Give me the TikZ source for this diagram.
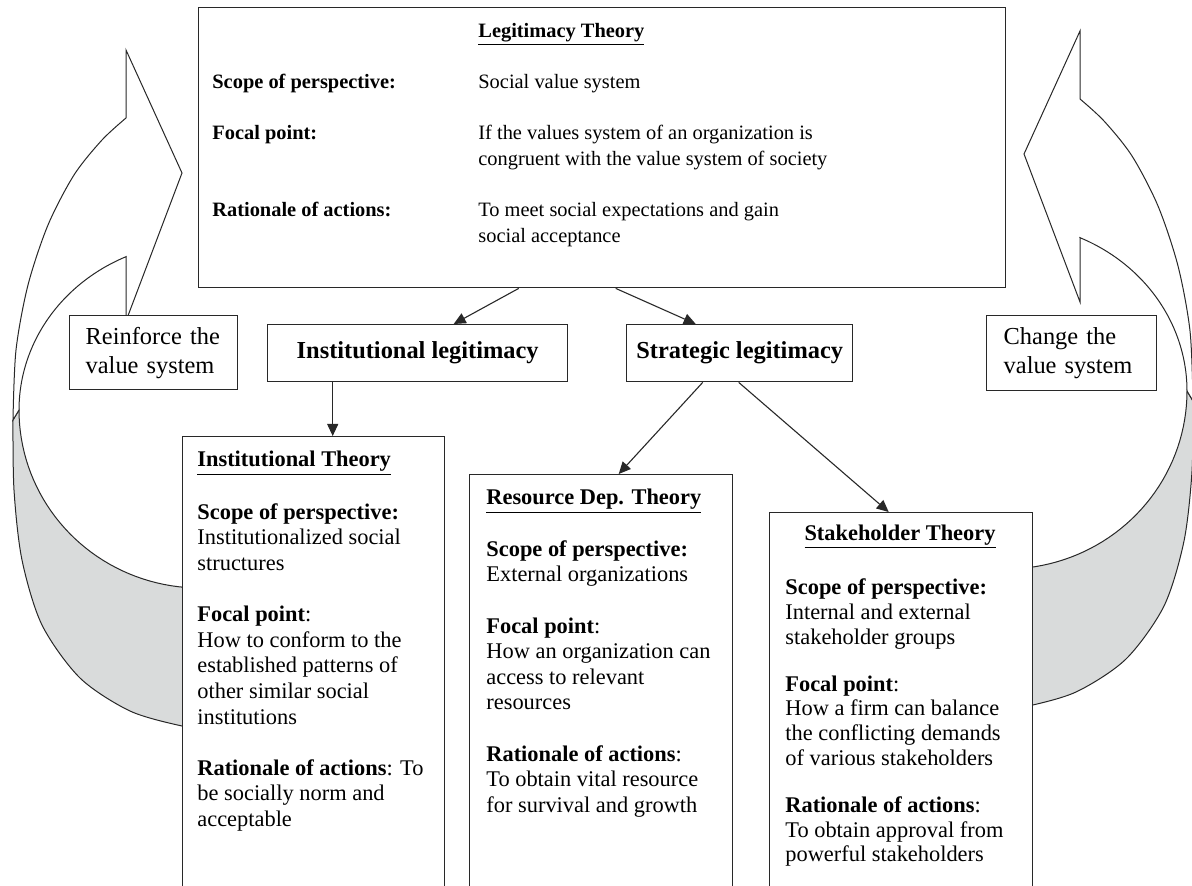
\documentclass[tikz,border=0pt]{standalone}
\usepackage{fontspec}
\setmainfont{Liberation Serif}
\usetikzlibrary{arrows.meta,positioning}

\definecolor{linegray}{RGB}{40,40,40}
\definecolor{backgray}{RGB}{217,219,219}
\newcommand{\blankrow}{\\[12.8pt]}
\newcommand{\tightrow}{\\[11pt]}

\tikzset{
  frame/.style={draw=linegray, line width=0.7pt, fill=white, inner sep=0pt, anchor=north west},
  link/.style={draw=linegray, line width=0.55pt, -{Triangle[length=6pt,width=5.5pt]}},
  bodytext/.style={align=left, inner sep=0pt, anchor=north west, font=\fontsize{11.2}{12.8}\selectfont},
  titletext/.style={inner sep=0pt, font=\fontsize{11.2}{12.8}\selectfont\bfseries},
  legitbox/.style={frame, minimum height=28.5pt, font=\fontsize{12.2}{14}\selectfont\bfseries},
  sidebox/.style={frame, align=left, inner xsep=8pt, minimum height=37pt, text width=68pt,
    font=\fontsize{12.2}{14.5}\selectfont},
  valuearrow/.pic={
    % underside of the band
    \filldraw[draw=linegray, fill=backgray, line width=0.5pt]
      plot[domain=90:180, samples=40] ({200+181*cos(\x)}, {410+178*sin(\x)})
      -- plot[smooth] coordinates {(13,420) (14,490) (22,560) (42,625) (80,678) (130,711) (182,726) (210,729)}
      -- cycle;
    % front of the band with its head
    \filldraw[draw=linegray, fill=white, line width=0.5pt]
      (126,118) -- (126,50) -- (182,173) -- (126,321) -- (126,257)
      -- plot[domain=245.9:180, samples=40] ({200+181*cos(\x)}, {410+168*sin(\x)})
      -- plot[smooth] coordinates {(13,420) (16,350) (28,285) (48,225) (74,175) (102,140) (126,118)}
      -- cycle;
  }
}

\begin{document}
\begin{tikzpicture}[x=0.5pt, y=-0.5pt]
  \useasboundingbox (0,0) rectangle (1192,886);
  \clip (0,0) rectangle (1192,886);

  % the two curved arrows
  \pic at (0,0) {valuearrow};
  \pic[xscale=-1] at (1206,-19) {valuearrow};

  % legitimacy theory
  \node[frame, minimum width=403.5pt, minimum height=140pt] (legit) at (198,7) {};
  \node[anchor=north west, inner sep=0pt, font=\fontsize{10.2}{12.8}\selectfont] (legittxt) at (212,19) {%
    \begin{tabular}{@{}p{133pt}@{}l@{}}
      & \underline{\textbf{Legitimacy Theory}}\blankrow
      \textbf{Scope of perspective:} & Social value system\blankrow
      \textbf{Focal point:} & If the values system of an organization is\\
      & congruent with the value system of society\blankrow
      \textbf{Rationale of actions:} & To meet social expectations and gain\\
      & social acceptance
    \end{tabular}};

  \node[legitbox, minimum width=150pt] (instlegit) at (267,324) {Institutional legitimacy};
  \node[legitbox, minimum width=113pt] (stratlegit) at (626,324) {Strategic legitimacy};

  \node[sidebox] (reinforce) at (69,315) {Reinforce the\\value system};
  \node[sidebox, inner xsep=8.5pt, minimum height=37.5pt] (change) at (986,315) {Change the\\value system};

  % the three theories
  \node[frame, minimum width=131pt, minimum height=240pt] (instbox) at (182,436) {};
  \node[frame, minimum width=131.5pt, minimum height=220pt] (resbox) at (469,474) {};
  \node[frame, minimum width=131.5pt, minimum height=200pt] (stakebox) at (769,512) {};

  \node[titletext, anchor=base west] (insttitle) at (197,467) {\underline{Institutional Theory}};
  \node[titletext, anchor=base west] (restitle) at (486,505) {\underline{Resource Dep. Theory}};
  \node[titletext, anchor=base] (staketitle) at (900,540) {\underline{Stakeholder Theory}};

  \node[bodytext] (instbody) at (197,501) {\strut\textbf{Scope of perspective:}\\
    Institutionalized social\\
    structures\blankrow
    \textbf{Focal point}:\\
    How to conform to the\\
    established patterns of\\
    other similar social\\
    institutions\blankrow
    \textbf{Rationale of actions}: To\\
    be socially norm and\\
    acceptable};
  \node[bodytext] (resbody) at (486,538) {\strut\textbf{Scope of perspective:}\\
    External organizations\blankrow
    \textbf{Focal point}:\\
    How an organization can\\
    access to relevant\\
    resources\blankrow
    \textbf{Rationale of actions}:\\
    To obtain vital resource\\
    for survival and growth};
  \node[bodytext, font=\fontsize{11.2}{12.4}\selectfont] (stakebody) at (785,577) {\strut\textbf{Scope of perspective:}\\
    Internal and external\\
    stakeholder groups\tightrow
    \textbf{Focal point}:\\
    How a firm can balance\\
    the conflicting demands\\
    of various stakeholders\tightrow
    \textbf{Rationale of actions}:\\
    To obtain approval from\\
    powerful stakeholders};

  % connectors
  \draw[link] ([xshift=-41.75pt]legit.south) -- ([xshift=18pt]instlegit.north);
  \draw[link] ([xshift=6.75pt]legit.south) -- ([xshift=-22pt]stratlegit.north);
  \draw[link] ([xshift=-42.5pt]instlegit.south) -- ([xshift=9.5pt]instbox.north);
  \draw[link] ([xshift=-18.5pt]stratlegit.south) -- ([xshift=8.75pt]resbox.north);
  \draw[link] ([xshift=-0.5pt]stratlegit.south) -- ([xshift=-6.25pt]stakebox.north);
\end{tikzpicture}
\end{document}
